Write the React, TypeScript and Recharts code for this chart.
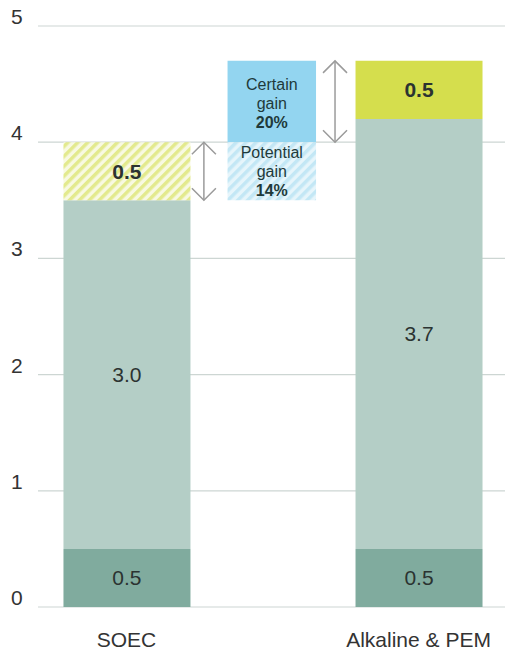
import { BarChart, Bar, XAxis, YAxis, CartesianGrid, ReferenceArea, ReferenceLine, LabelList, Cell } from "recharts";

const categories = ["SOEC", "Alkaline & PEM"];
const baseValues = [0.5, 0.5];
const coreValues = [3.0, 3.7];
const topValues = [0.5, 0.5];
const topHatched = [true, false];
const yTicks = [0, 1, 2, 3, 4, 5];

const certainGainLines = ["Certain", "gain", "20%"];
const potentialGainLines = ["Potential", "gain", "14%"];

const FONT = "'Liberation Sans', Arial, sans-serif";
const TEXT = "#2b3331";

const data = categories.map((name, i) => ({
  x: i,
  name,
  base: baseValues[i],
  core: coreValues[i],
  top: topValues[i],
}));

const soecTotal = baseValues[0] + coreValues[0] + topValues[0];
const soecCoreTop = baseValues[0] + coreValues[0];
const alkTotal = baseValues[1] + coreValues[1] + topValues[1];

function YTick(props: any) {
  const { y, payload } = props;
  return (
    <text x={11} y={y - 2} fontSize={21} fill="#333" fontFamily={FONT}>
      {payload.value}
    </text>
  );
}

function XTick(props: any) {
  const { x, y, payload } = props;
  return (
    <text x={x} y={y + 40} textAnchor="middle" fontSize={21} fill="#333" fontFamily={FONT}>
      {categories[payload.value]}
    </text>
  );
}

function barLabel(bold: boolean) {
  return (props: any) => {
    const { x, y, width, height, value } = props;
    return (
      <text
        x={x + width / 2}
        y={y + height / 2}
        textAnchor="middle"
        dominantBaseline="central"
        fontSize={21}
        fontWeight={bold ? 700 : 400}
        fill={TEXT}
        fontFamily={FONT}
      >
        {Number(value).toFixed(1)}
      </text>
    );
  };
}

function boxText(lines: string[], gap: number, shift: number) {
  return (props: any) => {
    const vb = props.viewBox;
    const cx = vb.x + vb.width / 2;
    const cy = vb.y + vb.height / 2 + shift;
    return (
      <g>
        {lines.map((l, i) => (
          <text
            key={i}
            x={cx}
            y={cy + (i - 1) * gap}
            textAnchor="middle"
            dominantBaseline="central"
            fontSize={16}
            fontWeight={i === 2 ? 700 : 400}
            fill="#1f3a3a"
            fontFamily={FONT}
          >
            {l}
          </text>
        ))}
      </g>
    );
  };
}

function DoubleArrow(props: any) {
  const { x1, y1, x2, y2 } = props;
  const top = Math.min(y1, y2);
  const bot = Math.max(y1, y2);
  const x = x1;
  const w = 12;
  const h = 12;
  return (
    <g stroke="#9b9b9b" strokeWidth={1.5} fill="none">
      <line x1={x} y1={top} x2={x2} y2={bot} />
      <polyline points={`${x - w},${top + h} ${x},${top} ${x + w},${top + h}`} />
      <polyline points={`${x - w},${bot - h} ${x},${bot} ${x + w},${bot - h}`} />
    </g>
  );
}

export default function App() {
  return (
    <div style={{ position: "absolute", left: 0, top: 0, background: "#fff" }}>
      <BarChart width={505} height={652} data={data} margin={{ top: 26, right: 0, left: 0, bottom: 0 }}>
        <defs>
          <pattern id="hatchYellow" patternUnits="userSpaceOnUse" width="7" height="7" patternTransform="rotate(45)">
            <rect width="7" height="7" fill="#f8f9e2" />
            <rect width="3.5" height="7" fill="#e3ea8e" />
          </pattern>
          <pattern id="hatchBlue" patternUnits="userSpaceOnUse" width="7" height="7" patternTransform="rotate(45)">
            <rect width="7" height="7" fill="#e6f5fb" />
            <rect width="3.5" height="7" fill="#c3e7f5" />
          </pattern>
        </defs>
        <CartesianGrid vertical={false} stroke="#cdd6d3" strokeWidth={1.2} />
        <XAxis
          dataKey="x"
          type="number"
          domain={[-0.303, 1.296]}
          ticks={[0, 1]}
          height={45}
          axisLine={false}
          tickLine={false}
          tickSize={0}
          tickMargin={0}
          tick={<XTick />}
          allowDataOverflow
        />
        <YAxis
          width={38}
          domain={[0, 5]}
          ticks={yTicks}
          axisLine={false}
          tickLine={false}
          tick={<YTick />}
        />
        <Bar dataKey="base" stackId="a" fill="#80ab9e" barSize={127} isAnimationActive={false}>
          <LabelList dataKey="base" content={barLabel(false)} />
        </Bar>
        <Bar dataKey="core" stackId="a" fill="#b4cec6" barSize={127} isAnimationActive={false}>
          <LabelList dataKey="core" content={barLabel(false)} />
        </Bar>
        <Bar dataKey="top" stackId="a" barSize={127} isAnimationActive={false}>
          {data.map((d, i) => (
            <Cell key={d.name} fill={topHatched[i] ? "url(#hatchYellow)" : "#d5de4d"} />
          ))}
          <LabelList dataKey="top" content={barLabel(true)} />
        </Bar>
        <ReferenceArea
          x1={0.346}
          x2={0.649}
          y1={soecTotal}
          y2={alkTotal}
          fill="#93d5f0"
          fillOpacity={1}
          stroke="none"
          label={boxText(certainGainLines, 19, 2)}
        />
        <ReferenceArea
          x1={0.346}
          x2={0.649}
          y1={soecCoreTop}
          y2={soecTotal}
          fill="url(#hatchBlue)"
          fillOpacity={1}
          stroke="none"
          label={boxText(potentialGainLines, 19, 0)}
        />
        <ReferenceLine
          segment={[{ x: 0.714, y: soecTotal }, { x: 0.714, y: alkTotal }]}
          shape={<DoubleArrow />}
        />
        <ReferenceLine
          segment={[{ x: 0.265, y: soecCoreTop }, { x: 0.265, y: soecTotal }]}
          shape={<DoubleArrow />}
        />
      </BarChart>
    </div>
  );
}
